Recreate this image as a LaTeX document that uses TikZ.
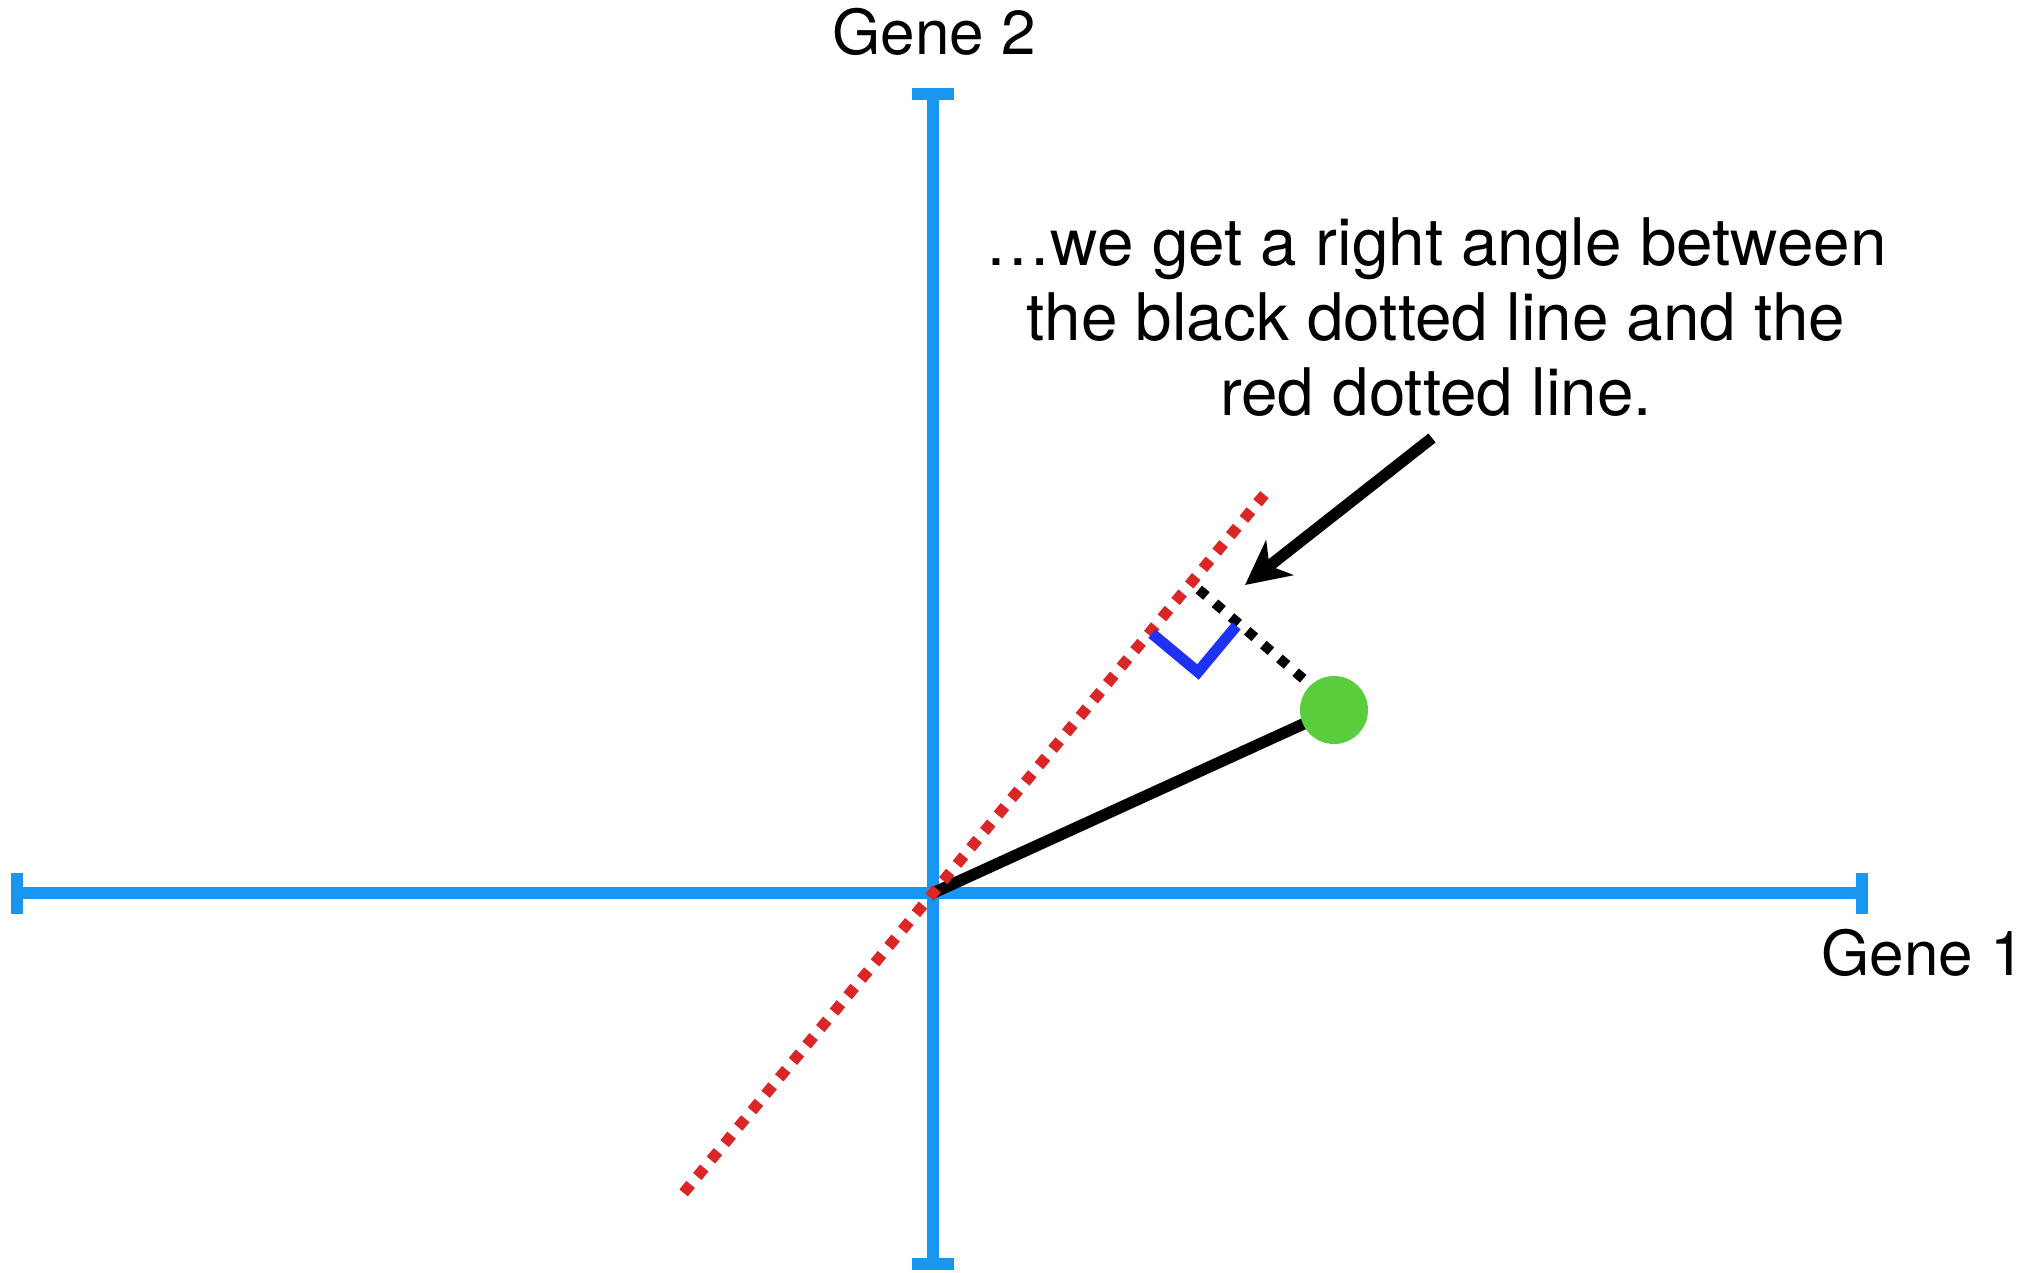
\documentclass[tikz,border=0pt]{standalone}
\usepackage{fontspec}
\setmainfont{TeX Gyre Heros}
\usetikzlibrary{arrows.meta,calc}
\definecolor{axisblue}{RGB}{25,150,240}
\definecolor{dotred}{RGB}{218,38,38}
\definecolor{markblue}{RGB}{30,50,245}
\definecolor{ptgreen}{RGB}{90,205,60}
\begin{document}
\begin{tikzpicture}[x=0.5pt,y=-0.5pt,
  axisline/.style={draw=axisblue,line width=5.75pt},
  reddots/.style={draw=dotred,line width=5.5pt,dash pattern=on 5.5pt off 5.185pt},
  blackdots/.style={draw=black,line width=5pt,dash pattern=on 5pt off 5.61pt},
  genelabel/.style={font=\fontsize{31pt}{36pt}\selectfont,inner sep=0pt},
  notetext/.style={font=\fontsize{32.8pt}{37.5pt}\selectfont,inner sep=0pt,anchor=base}]
\useasboundingbox (0,0) rectangle (2023,1273);
% axes
\coordinate (O) at (933,893);
\coordinate (xl) at (17,893);
\coordinate (xr) at (1862,893);
\coordinate (yt) at (933,94);
\coordinate (yb) at (933,1264);
\draw[axisline] (xl) -- (xr);
\draw[axisline] (yt) -- (yb);
\draw[axisline] ($(xl)+(0,-20.5)$) -- ($(xl)+(0,20.5)$);
\draw[axisline] ($(xr)+(0,-20.5)$) -- ($(xr)+(0,20.5)$);
\draw[axisline] ($(yt)+(-21,0)$) -- ($(yt)+(21,0)$);
\draw[axisline] ($(yb)+(-21,0)$) -- ($(yb)+(21,0)$);
% black line to point
\coordinate (Gc) at (1334,710);
\draw[line width=5.75pt] (O) -- (Gc);
% black dotted
\coordinate (F) at (1198.8,589.5);
\coordinate (Dend) at (1304.1,679.5);
\draw[blackdots] (F) -- (Dend);
% red dotted
\coordinate (R1) at (683.6,1192.9);
\coordinate (R2) at (1264.4,494.6);
\draw[reddots] (R1) -- (R2);
% right angle marker
\coordinate (M1) at (1151.9,633.6);
\coordinate (M2) at (1198,672);
\coordinate (M3) at (1236.4,625.9);
\draw[draw=markblue,line width=5.5pt,miter limit=10] (M1) -- (M2) -- (M3);
% green point
\node[circle,fill=ptgreen,minimum size=34pt,inner sep=0pt] (G) at (Gc) {};
% arrow
\coordinate (At) at (1432,438);
\coordinate (Ah) at (1245,585);
\draw[line width=5.75pt,-{Stealth[length=22pt,width=22pt,inset=6.5pt]}] (At) -- (Ah);
% labels
\node[genelabel,anchor=base] (g2) at (934,55) {Gene 2};
\node[genelabel,anchor=base west] (g1) at (1821,975) {Gene 1};
\node[notetext] (n1) at (1436,265) {…we get a right angle between};
\node[notetext] (n2) at (1436,340) {the black dotted line and the};
\node[notetext] (n3) at (1436,415) {red dotted line.};
\end{tikzpicture}
\end{document}
